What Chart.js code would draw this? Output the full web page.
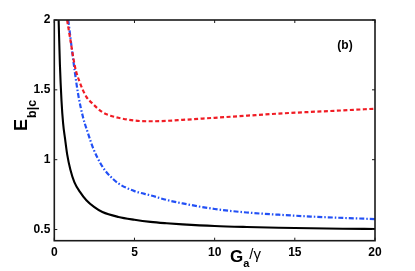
<!DOCTYPE html>
<html>
<head>
<meta charset="utf-8">
<script src="https://cdn.jsdelivr.net/npm/chart.js@4.4.1/dist/chart.umd.min.js"></script>
<style>
  body{margin:0;background:#fff;}
  #wrap{width:415px;height:271px;}
</style>
</head>
<body>
<div id="wrap"><canvas id="chart" width="415" height="271"></canvas></div>
<script>
// values
const xTicks=[0,5,10,15,20];
const yTicks=[0.5,1,1.5,2];

const blackX=[0.27,0.35,0.45,0.55,0.67,0.8,1.0,1.25,1.6,2.0,2.5,3.0,4.0,5.0,6.0,7.0,8.0,10,12,14,16,18,20];
const blackY=[2.0,1.68,1.42,1.26,1.15,1.04,0.93,0.84,0.77,0.71,0.66,0.625,0.59,0.57,0.555,0.545,0.537,0.525,0.518,0.513,0.509,0.506,0.504];

const redX=[0.8,1.0,1.3,1.6,2.0,2.4,3.0,3.5,4.0,5.0,6.0,7.0,8.0,10,12,14,16,18,20];
const redY=[2.0,1.86,1.66,1.55,1.45,1.40,1.34,1.315,1.30,1.28,1.275,1.278,1.285,1.30,1.315,1.33,1.342,1.353,1.365];

const blueX=[0.87,1.0,1.29,1.5,1.8,2.1,2.43,3.0,3.5,4.0,5.0,6.0,7.0,8.0,10,12,14,16,18,20];
const blueY=[2.0,1.88,1.62,1.46,1.30,1.19,1.08,0.95,0.88,0.83,0.775,0.745,0.712,0.687,0.647,0.622,0.606,0.593,0.583,0.575];

const pts=(xs,ys)=>xs.map((x,i)=>({x:x,y:ys[i]}));

const tickFont={family:"'Liberation Sans', Arial, sans-serif",size:12,weight:"bold"};

// box, inward ticks and titles drawn on top of the chart
const framePlugin={
  id:"frame",
  afterDraw(chart){
    const {ctx,chartArea:a,scales}=chart;
    ctx.save();
    ctx.strokeStyle="#1a1a1a";
    ctx.lineWidth=1.6;
    ctx.strokeRect(a.left,a.top,a.right-a.left,a.bottom-a.top);
    ctx.lineWidth=1;
    ctx.beginPath();
    xTicks.forEach(v=>{
      const px=scales.x.getPixelForValue(v);
      ctx.moveTo(px,a.bottom);ctx.lineTo(px,a.bottom-3);
      ctx.moveTo(px,a.top);ctx.lineTo(px,a.top+3);
    });
    yTicks.forEach(v=>{
      const py=scales.y.getPixelForValue(v);
      ctx.moveTo(a.left,py);ctx.lineTo(a.left+3,py);
      ctx.moveTo(a.right,py);ctx.lineTo(a.right-3,py);
    });
    ctx.stroke();

    ctx.fillStyle="#000";
    ctx.textBaseline="alphabetic";
    // x title  G_a/γ
    ctx.font="bold 17px 'Liberation Sans', Arial, sans-serif";
    ctx.textAlign="left";
    ctx.fillText("G",230,262);
    let w=ctx.measureText("G").width;
    ctx.font="bold 11px 'Liberation Sans', Arial, sans-serif";
    ctx.fillText("a",230+w,267);
    let w2=ctx.measureText("a").width;
    ctx.font="15px 'Liberation Sans', Arial, sans-serif";
    ctx.fillText("/\u03b3",230+w+w2,259);

    // y title  E_b|c
    ctx.save();
    ctx.translate(27,131);
    ctx.rotate(-Math.PI/2);
    ctx.font="bold 18px 'Liberation Sans', Arial, sans-serif";
    ctx.fillText("E",0,0);
    w=ctx.measureText("E").width;
    ctx.font="bold 12.5px 'Liberation Sans', Arial, sans-serif";
    ctx.fillText("b|c",w+1,9);
    ctx.restore();

    // panel label
    ctx.font="bold 12px 'Liberation Sans', Arial, sans-serif";
    ctx.textAlign="center";
    ctx.textBaseline="middle";
    ctx.fillText("(b)",345,46);
    ctx.restore();
  }
};

new Chart(document.getElementById("chart").getContext("2d"),{
  type:"line",
  data:{
    datasets:[
      {data:pts(blackX,blackY),borderColor:"#000",borderWidth:2.1,pointRadius:0,cubicInterpolationMode:"monotone"},
      {data:pts(redX,redY),borderColor:"#f01c24",borderWidth:2.2,borderDash:[4,2.5],pointRadius:0,cubicInterpolationMode:"monotone"},
      {data:pts(blueX,blueY),borderColor:"#2250f5",borderWidth:2.2,borderDash:[5,2,1.5,2],pointRadius:0,cubicInterpolationMode:"monotone"}
    ]
  },
  options:{
    responsive:false,
    animation:false,
    layout:{padding:{left:0,top:20,right:40,bottom:0}},
    plugins:{legend:{display:false},tooltip:{enabled:false}},
    scales:{
      x:{
        type:"linear",min:0,max:20,
        grid:{display:false,drawTicks:false},
        border:{display:false},
        afterBuildTicks:s=>{s.ticks=xTicks.map(v=>({value:v}));},
        afterFit:s=>{s.height=30.3;},
        ticks:{font:tickFont,color:"#000",padding:5,maxRotation:0}
      },
      y:{
        type:"linear",min:0.42,max:2,
        grid:{display:false,drawTicks:false},
        border:{display:false},
        afterBuildTicks:s=>{s.ticks=yTicks.map(v=>({value:v}));},
        afterFit:s=>{s.width=54.3;},
        ticks:{font:tickFont,color:"#000",padding:4,callback:v=>String(v)}
      }
    }
  },
  plugins:[framePlugin]
});
</script>
</body>
</html>
